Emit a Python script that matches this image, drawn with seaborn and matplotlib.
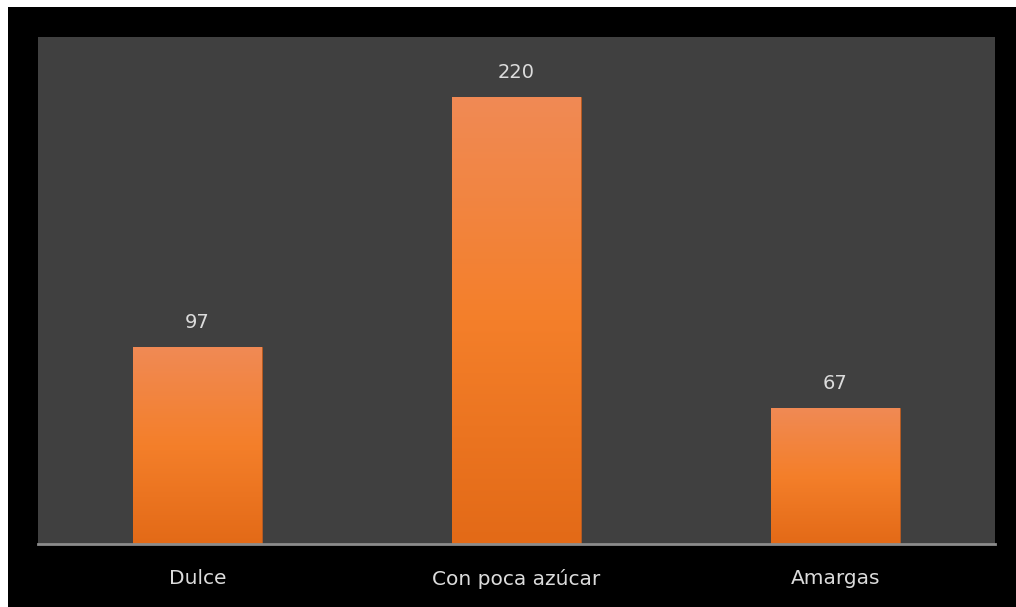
import numpy as np
import pandas as pd
import matplotlib
matplotlib.use("Agg")
import matplotlib.pyplot as plt
import seaborn as sns
from matplotlib.patches import Rectangle
from matplotlib.colors import LinearSegmentedColormap

categories = ["Dulce", "Con poca azúcar", "Amargas"]
values = [97, 220, 67]

df = pd.DataFrame({"cat": categories, "val": values})

sns.set_theme(style="white")
plt.rcParams['font.family'] = ['DejaVu Sans']

fig = plt.figure(figsize=(10.16, 6.07), dpi=100, facecolor="white")
fig.patches.append(Rectangle((8/1016, 0), 1 - 8/1016, 1 - 7/607, transform=fig.transFigure,
                             facecolor="black", edgecolor="none", zorder=-10))
ax = fig.add_axes([38/1016, (607-544)/607, (995-38)/1016, (544-37)/607])
ax.set_facecolor("#404040")

sns.barplot(data=df, x="cat", y="val", ax=ax, width=0.404, color="#F47F2A",
            edgecolor="#B85A20", linewidth=0.6, saturation=1)
ax.set_ylim(0, 249.5)
ax.set_xlim(-0.5, 2.5)

cmap = LinearSegmentedColormap.from_list("g", ["#E36A17", "#F47F2A", "#F08A55"])
grad = np.linspace(0, 1, 256).reshape(-1, 1)
for p in ax.patches:
    x0, y0 = p.get_x(), p.get_y()
    w, h = p.get_width(), p.get_height()
    im = ax.imshow(grad, cmap=cmap, aspect="auto", origin="lower",
                   extent=[x0, x0 + w, y0, y0 + h], zorder=p.get_zorder() + 0.1)
    im.set_clip_path(p)
    ax.annotate(f"{int(round(h))}", (x0 + w / 2, h), xytext=(0, 13.5), textcoords="offset points",
                ha="center", va="baseline", color="#DCDCDC", fontsize=14)
ax.set_xlim(-0.5, 2.5)
ax.set_ylim(0, 249.5)

ax.set_xlabel("")
ax.set_ylabel("")
ax.set_yticks([])
ax.tick_params(axis="x", length=0, pad=18, labelsize=14.5, labelcolor="#DCDCDC")
for s in ["top", "left", "right"]:
    ax.spines[s].set_visible(False)
ax.spines["bottom"].set_color("#8C8C8C")
ax.spines["bottom"].set_linewidth(2)

fig.savefig("out.png", dpi=100, facecolor="white")
